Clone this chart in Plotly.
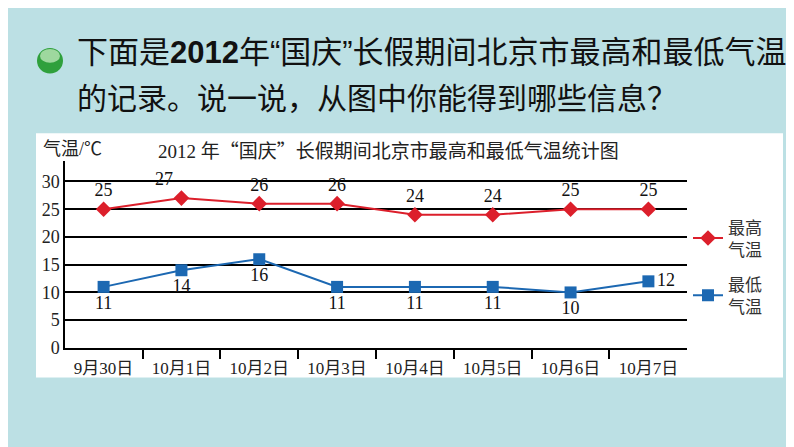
import plotly.graph_objects as go

W, H = 794, 447

categories = ["9月30日", "10月1日", "10月2日", "10月3日", "10月4日", "10月5日", "10月6日", "10月7日"]
high_temps = [25, 27, 26, 26, 24, 24, 25, 25]
low_temps = [11, 14, 16, 11, 11, 11, 10, 12]
y_ticks = [0, 5, 10, 15, 20, 25, 30]

high_pos = ["top center", "top left", "top center", "top center", "top center", "top center", "top center", "top center"]
low_pos = ["bottom center", "bottom center", "bottom center", "bottom center", "bottom center", "bottom center", "bottom center", "middle right"]

RED = "#DC1F2B"
BLUE = "#1C68B2"
BG = "#BCE0E4"
SERIF = "Liberation Serif, Noto Sans CJK SC"
SANS = "Liberation Sans, Noto Sans CJK SC"
CJK = "Noto Sans CJK SC"


def px_x(x):
    return x / W


def px_y(y):
    return 1 - y / H


def cjk_quote(q):
    return '<span style="font-family:Noto Sans CJK SC">' + q + '</span>'


fig = go.Figure()
fig.add_trace(go.Scatter(
    x=categories, y=high_temps, name="最高<br>气温", legendgroup="h",
    mode="lines+markers+text", text=[str(v) for v in high_temps], textposition=high_pos,
    line=dict(color=RED, width=2), marker=dict(symbol="diamond", size=12, color=RED),
    textfont=dict(family=SERIF, size=18, color="#111"),
))
fig.add_trace(go.Scatter(
    x=categories, y=low_temps, name="最低<br>气温", legendgroup="l",
    mode="lines+markers+text", text=[str(v) for v in low_temps], textposition=low_pos,
    line=dict(color=BLUE, width=2), marker=dict(symbol="square", size=12, color=BLUE),
    textfont=dict(family=SERIF, size=18, color="#111"),
))

shapes = [
    # white chart panel
    dict(type="rect", xref="paper", yref="paper", x0=px_x(28), x1=px_x(775), y0=px_y(378), y1=px_y(128),
         fillcolor="white", line=dict(width=0), layer="below"),
    # green bullet
    dict(type="circle", xref="paper", yref="paper", x0=px_x(29), x1=px_x(55), y0=px_y(67), y1=px_y(41),
         fillcolor="#2FA03C", line=dict(width=0)),
    dict(type="circle", xref="paper", yref="paper", x0=px_x(32), x1=px_x(52), y0=px_y(56), y1=px_y(42),
         fillcolor="rgba(205,240,200,0.7)", line=dict(width=0)),
]

annotations = [
    dict(text="下面是<b>2012</b>年“国庆”长假期间北京市最高和最低气温", x=px_x(67), y=px_y(46),
         xref="paper", yref="paper", xanchor="left", yanchor="middle", showarrow=False,
         font=dict(family=SANS, size=31, color="#111")),
    dict(text="的记录。说一说，从图中你能得到哪些信息？", x=px_x(67), y=px_y(90),
         xref="paper", yref="paper", xanchor="left", yanchor="middle", showarrow=False,
         font=dict(family=CJK, size=30, color="#111")),
    dict(text="2012 年" + cjk_quote("“") + "国庆" + cjk_quote("”") + "长假期间北京市最高和最低气温统计图",
         x=px_x(380), y=px_y(145),
         xref="paper", yref="paper", xanchor="center", yanchor="middle", showarrow=False,
         font=dict(family=SERIF, size=19, color="#222")),
    dict(text="气温/℃", x=px_x(33), y=px_y(144),
         xref="paper", yref="paper", xanchor="left", yanchor="middle", showarrow=False,
         font=dict(family=SERIF, size=18, color="#222")),
]

fig.update_layout(
    width=W, height=H,
    margin=dict(l=0, r=0, t=0, b=0),
    paper_bgcolor=BG, plot_bgcolor="white",
    shapes=shapes, annotations=annotations,
    showlegend=True,
    legend=dict(x=px_x(680), y=px_y(206), xanchor="left", yanchor="top",
                bgcolor="rgba(0,0,0,0)", font=dict(family=CJK, size=17, color="#333"),
                tracegroupgap=10, itemwidth=30),
    xaxis=dict(domain=[px_x(57), px_x(679)], type="category", showgrid=False,
               showline=True, linecolor="black", linewidth=1.5,
               ticks="outside", tickson="boundaries", ticklen=9, tickcolor="black", tickwidth=1.5,
               ticklabelstandoff=4,
               tickfont=dict(family=SERIF, size=17, color="#222"), fixedrange=True),
    yaxis=dict(domain=[px_y(347.7), px_y(157)], range=[0, 33.6], tickvals=y_ticks,
               showgrid=True, gridcolor="black", gridwidth=1.5, zeroline=False,
               showline=True, linecolor="black", linewidth=1.5, ticks="",
               tickfont=dict(family=SERIF, size=18, color="#222"), fixedrange=True),
)

fig.write_html("out.html")
